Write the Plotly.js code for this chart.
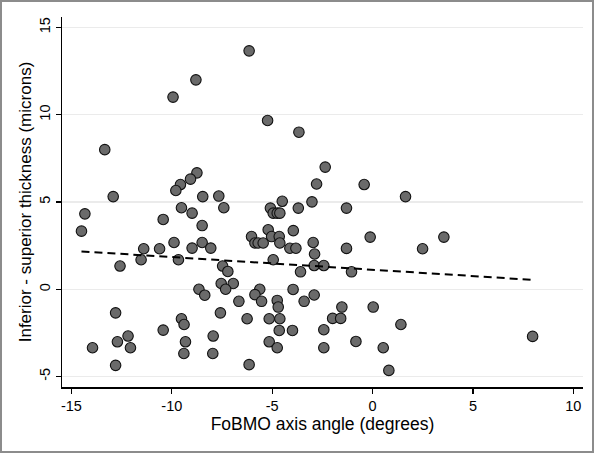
<!DOCTYPE html>
<html>
<head>
<meta charset="utf-8">
<script src="https://cdn.plot.ly/plotly-3.0.1.min.js"></script>
<style>
html,body{margin:0;padding:0;background:#fff;}
#wrap{position:relative;width:600px;height:453px;}
#chart{width:600px;height:453px;}
#frame{position:absolute;left:0;top:0;width:590px;height:449px;border:2px solid #8c8c8c;pointer-events:none;}
</style>
</head>
<body>
<div id="wrap"><div id="chart"></div><div id="frame"></div></div>
<script>
// FoBMO axis angle (degrees)
const angle = [
 -6.15,-8.80,-9.94,-5.23,-3.67,-13.34,-2.36,-2.79,-0.42,-8.75,
 -9.07,-9.57,-9.80,-12.92,-8.46,-7.66,1.64,-4.50,-3.02,-14.33,
 -10.43,-9.52,-8.99,-7.41,-5.09,-4.95,-4.75,-4.62,-3.70,-1.30,
 -14.50,-8.49,-5.20,-3.95,-6.03,-5.03,-4.65,-0.12,3.55,-9.89,
 -8.49,-5.86,-5.70,-5.45,-4.62,-2.96,-8.06,-8.99,-10.61,-11.40,
 -4.12,-3.82,-1.30,2.49,-2.89,-11.53,-9.67,-4.95,-12.58,-7.47,
 -2.91,-2.43,-7.21,-3.59,-1.05,-7.54,-6.94,-8.65,-7.32,-5.62,
 -3.96,-8.36,-5.86,-2.91,-6.66,-5.53,-4.75,-4.70,-3.41,-1.53,
 0.03,-12.80,-7.58,-9.52,-6.25,-5.15,-4.62,-1.99,-1.59,-9.39,
 1.41,-10.43,-4.65,-3.99,-2.43,-12.18,-7.94,7.97,-12.71,-9.32,
 -5.15,-0.83,-13.95,-12.06,-4.75,-2.43,0.53,-9.40,-7.96,-12.80,
 -6.15,0.81
];
// Inferior - superior thickness (microns)
const thickness = [
 13.66,12.00,11.01,9.67,9.00,8.00,7.00,6.03,6.00,6.67,
 6.31,6.00,5.66,5.31,5.31,5.34,5.31,5.04,5.01,4.32,
 4.00,4.67,4.36,4.67,4.65,4.36,4.36,4.36,4.65,4.65,
 3.33,3.65,3.41,3.36,3.02,3.02,3.02,2.99,2.99,2.68,
 2.68,2.65,2.65,2.65,2.65,2.68,2.36,2.36,2.32,2.32,
 2.35,2.35,2.34,2.32,2.02,1.69,1.69,1.69,1.33,1.33,
 1.36,1.36,1.02,1.00,1.00,0.33,0.33,0.00,0.00,0.00,
 -0.01,-0.34,-0.31,-0.33,-0.69,-0.69,-0.64,-1.02,-0.69,-1.02,
 -1.02,-1.35,-1.35,-1.69,-1.69,-1.69,-1.69,-1.67,-1.67,-2.02,
 -2.02,-2.34,-2.36,-2.36,-2.32,-2.68,-2.68,-2.70,-3.01,-3.01,
 -3.01,-2.99,-3.35,-3.35,-3.35,-3.35,-3.35,-3.68,-3.68,-4.36,
 -4.32,-4.65
];
// Linear fit line endpoints
const fitX = [-14.50, 7.97];
const fitY = [2.17, 0.54];

const xTicks = [-15, -10, -5, 0, 5, 10];
const yTicks = [-5, 0, 5, 10, 15];

const font = 'Liberation Sans, Arial, Helvetica, sans-serif';

const traces = [
  {
    x: angle, y: thickness, type: 'scatter', mode: 'markers',
    marker: {size: 10.5, color: '#6a6a6a', line: {color: '#111', width: 1.1}},
    hoverinfo: 'skip', showlegend: false
  },
  {
    x: fitX, y: fitY, type: 'scatter', mode: 'lines',
    line: {color: '#000', width: 2, dash: '8px,5px'},
    hoverinfo: 'skip', showlegend: false
  }
];

const layout = {
  width: 600, height: 453,
  margin: {l: 62, r: 17, t: 17, b: 66},
  paper_bgcolor: '#fff', plot_bgcolor: '#fff',
  font: {family: font, color: '#000', size: 14},
  showlegend: false,
  xaxis: {
    range: [-15.47, 10.48],
    tickvals: xTicks, ticktext: xTicks.map(String),
    showgrid: false, zeroline: false,
    showline: true, linecolor: '#000', linewidth: 1.5,
    ticks: 'outside', ticklen: 5, tickwidth: 1.2, tickcolor: '#000',
    tickfont: {size: 14.5, family: font},
    title: {text: 'FoBMO axis angle (degrees)', font: {size: 17.5, family: font}, standoff: 5}
  },
  yaxis: {
    range: [-5.6, 15.6],
    tickvals: yTicks, ticktext: yTicks.map(String),
    tickangle: -90,
    showgrid: true, gridcolor: '#ebebeb', gridwidth: 1.5,
    zeroline: false,
    showline: true, linecolor: '#000', linewidth: 1.5,
    ticks: 'outside', ticklen: 5, tickwidth: 1.2, tickcolor: '#000',
    tickfont: {size: 14.5, family: font},
    title: {text: 'Inferior - superior thickness (microns)', font: {size: 17, family: font}, standoff: 1}
  }
};

Plotly.newPlot('chart', traces, layout, {staticPlot: true, displayModeBar: false});
</script>
</body>
</html>
